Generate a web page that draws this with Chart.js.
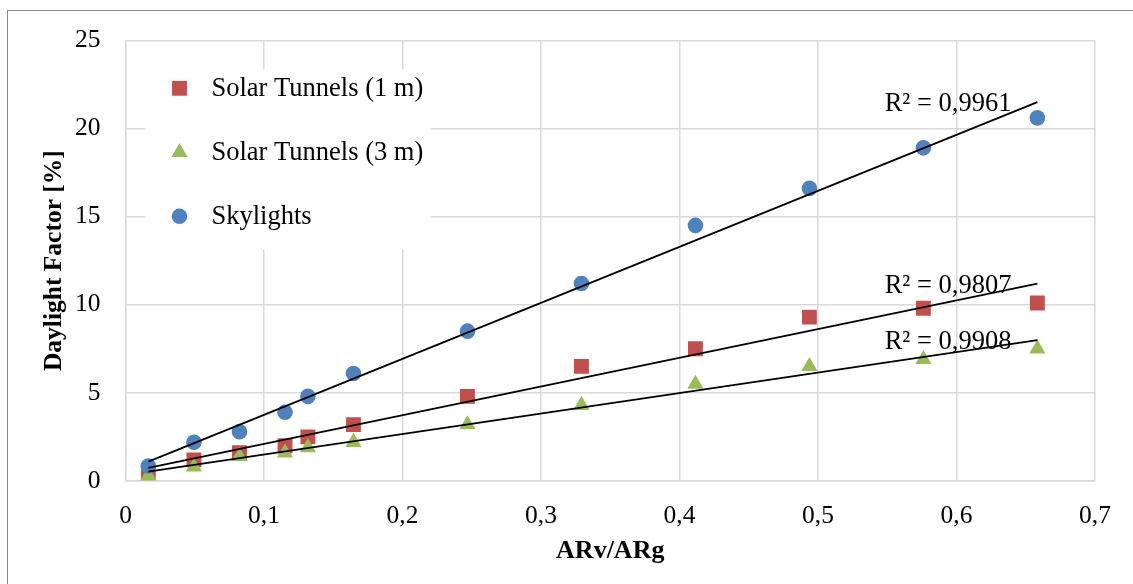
<!DOCTYPE html>
<html>
<head>
<meta charset="utf-8">
<script src="https://cdn.jsdelivr.net/npm/chart.js@4.4.0/dist/chart.umd.min.js"></script>
<style>
  html, body { margin: 0; padding: 0; background: #fff; }
  #frame { position: absolute; left: 7px; top: 10px; width: 1400px; height: 800px;
           border-left: 1px solid #8a8a8a; border-top: 1px solid #8a8a8a; }
  #wrap { position: absolute; left: 0; top: 0; width: 1133px; height: 584px; }
</style>
</head>
<body>
<div id="frame"></div>
<div id="wrap"><canvas id="chart" width="1133" height="584"></canvas></div>
<script>
// ARv/ARg values shared by all three series
const ratios = [0.0165, 0.0494, 0.0823, 0.1152, 0.1317, 0.1646, 0.2469, 0.3292, 0.4115, 0.4938, 0.5761, 0.6584];

// Daylight factor [%]
const tunnels1m = [0.5, 1.2, 1.6, 2.0, 2.5, 3.2, 4.8, 6.5, 7.5, 9.3, 9.8, 10.1];
const tunnels3m = [0.3, 0.8, 1.4, 1.6, 1.9, 2.2, 3.2, 4.3, 5.5, 6.5, 6.9, 7.5];
const skylights = [0.85, 2.2, 2.8, 3.9, 4.8, 6.1, 8.5, 11.2, 14.5, 16.6, 18.9, 20.6];

const seriesNames = ['Solar Tunnels (1 m)', 'Solar Tunnels (3 m)', 'Skylights'];
const r2Labels = ['R² = 0,9807', 'R² = 0,9908', 'R² = 0,9961'];

const xTickLabels = ['0', '0,1', '0,2', '0,3', '0,4', '0,5', '0,6', '0,7'];
const yTickLabels = ['0', '5', '10', '15', '20', '25'];

const FONT = "'Liberation Serif', 'Times New Roman', serif";

// least squares line, like Excel's linear trendline
function fitLine(xs, ys) {
    const n = xs.length;
    const mx = xs.reduce((a, b) => a + b, 0) / n;
    const my = ys.reduce((a, b) => a + b, 0) / n;
    let sxy = 0, sxx = 0;
    for (let i = 0; i < n; i++) {
        sxy += (xs[i] - mx) * (ys[i] - my);
        sxx += (xs[i] - mx) * (xs[i] - mx);
    }
    const slope = sxy / sxx;
    const icpt = my - slope * mx;
    const x0 = xs[0], x1 = xs[n - 1];
    return [{ x: x0, y: icpt + slope * x0 }, { x: x1, y: icpt + slope * x1 }];
}

const toPoints = ys => ratios.map((x, i) => ({ x: x, y: ys[i] }));

const seriesValues = [tunnels1m, tunnels3m, skylights];
const colors = ['#C0504D', '#9BBB59', '#4F81BD'];
const styles = ['rect', 'triangle', 'circle'];
const radii = [10.5, 9.4, 7.8];

const datasets = [];
seriesValues.forEach((ys, i) => {
    datasets.push({
        label: seriesNames[i],
        data: toPoints(ys),
        pointStyle: styles[i],
        pointRadius: radii[i],
        pointHoverRadius: radii[i],
        pointBackgroundColor: colors[i],
        pointBorderWidth: 0,
        borderColor: colors[i],
        backgroundColor: colors[i],
        showLine: false,
        order: 3 - i
    });
});
seriesValues.forEach((ys, i) => {
    datasets.push({
        label: 'trend ' + i,
        data: fitLine(ratios, ys),
        showLine: true,
        borderColor: '#000',
        borderWidth: 1.8,
        pointRadius: 0,
        fill: false,
        order: 0,
        trendOf: i
    });
});

// legend drawn inside the plot area, top left
const innerLegend = {
    id: 'innerLegend',
    afterDatasetsDraw(chart) {
        const { ctx, chartArea } = chart;
        const bx = chartArea.left + 20, by = chartArea.top + 29;
        ctx.save();
        ctx.fillStyle = '#fff';
        ctx.fillRect(bx, by, 285, 180);
        ctx.font = '26.5px ' + FONT;
        ctx.textBaseline = 'middle';
        ctx.textAlign = 'left';
        seriesNames.forEach((name, i) => {
            const y = by + 19 + i * 64;
            ctx.fillStyle = colors[i];
            Chart.helpers.drawPoint(ctx, { pointStyle: styles[i], radius: radii[i], rotation: 0, borderWidth: 0 }, bx + 34, y);
            ctx.fillStyle = '#000';
            ctx.fillText(name, bx + 66, y + 1);
        });
        ctx.restore();
    }
};

// R² labels next to the end of each trendline
const r2Text = {
    id: 'r2Text',
    beforeDatasetsDraw(chart) {
        const { ctx, scales } = chart;
        ctx.save();
        ctx.font = '26.5px ' + FONT;
        ctx.fillStyle = '#000';
        ctx.textAlign = 'right';
        ctx.textBaseline = 'middle';
        chart.data.datasets.forEach(ds => {
            if (ds.trendOf === undefined) return;
            const end = ds.data[1];
            const px = scales.x.getPixelForValue(end.x);
            const py = scales.y.getPixelForValue(end.y);
            ctx.fillText(r2Labels[ds.trendOf], px - 26, py + 2);
        });
        ctx.restore();
    }
};

new Chart(document.getElementById('chart'), {
    type: 'scatter',
    data: { datasets: datasets },
    options: {
        responsive: false,
        animation: false,
        layout: { padding: { left: 0, top: 38, right: 38, bottom: 0 } },
        plugins: {
            legend: { display: false },
            tooltip: { enabled: false }
        },
        scales: {
            x: {
                type: 'linear',
                min: 0, max: 0.7,
                afterFit(scale) { scale.height = 103; },
                grid: { color: '#d9d9d9', lineWidth: 1.5, drawTicks: false },
                border: { color: '#d9d9d9', width: 1.5 },
                ticks: {
                    stepSize: 0.1,
                    padding: 20,
                    color: '#000',
                    font: { family: FONT, size: 25.5 },
                    callback: (v, i) => xTickLabels[i]
                },
                title: {
                    display: true,
                    text: 'ARv/ARg',
                    color: '#000',
                    font: { family: FONT, size: 26, weight: 'bold' },
                    padding: { top: 0, bottom: 17 }
                }
            },
            y: {
                type: 'linear',
                min: 0, max: 25,
                afterFit(scale) { scale.width = 125.5; },
                grid: { color: '#d9d9d9', lineWidth: 1.5, drawTicks: false },
                border: { color: '#d9d9d9', width: 1.5 },
                ticks: {
                    stepSize: 5,
                    padding: 25,
                    color: '#000',
                    font: { family: FONT, size: 25.5 },
                    callback: (v, i) => yTickLabels[i]
                },
                title: {
                    display: true,
                    text: 'Daylight Factor [%]',
                    color: '#000',
                    font: { family: FONT, size: 25.5, weight: 'bold' },
                    padding: { top: 39, bottom: 0 }
                }
            }
        }
    },
    plugins: [r2Text, innerLegend]
});
</script>
</body>
</html>
